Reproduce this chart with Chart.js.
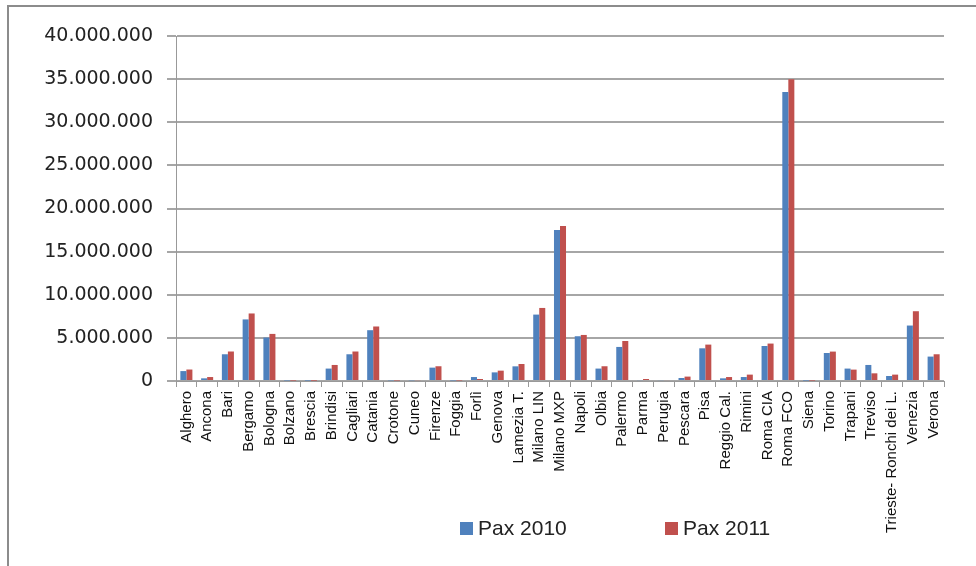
<!DOCTYPE html>
<html>
<head>
<meta charset="utf-8">
<script src="https://cdn.jsdelivr.net/npm/chart.js@4/dist/chart.umd.min.js"></script>
<style>
  body { margin: 0; background: #fff; }
  canvas { display: block; }
</style>
</head>
<body>
<canvas id="myChart" width="976" height="566"></canvas>
<script>
let airports = ['Alghero', 'Ancona', 'Bari', 'Bergamo', 'Bologna', 'Bolzano', 'Brescia', 'Brindisi',
    'Cagliari', 'Catania', 'Crotone', 'Cuneo', 'Firenze', 'Foggia', 'Forlì', 'Genova', 'Lamezia T.',
    'Milano LIN', 'Milano MXP', 'Napoli', 'Olbia', 'Palermo', 'Parma', 'Perugia', 'Pescara', 'Pisa',
    'Reggio Cal.', 'Rimini', 'Roma CIA', 'Roma FCO', 'Siena', 'Torino', 'Trapani', 'Treviso',
    'Trieste- Ronchi dei L.', 'Venezia', 'Verona'];

let pax2010 = [1150000, 310000, 3100000, 7140000, 5040000, 60000, 50000, 1440000,
    3100000, 5890000, 70000, 80000, 1550000, 60000, 460000, 1000000, 1700000,
    7700000, 17500000, 5190000, 1440000, 3950000, 100000, 100000, 350000, 3790000,
    310000, 460000, 4060000, 33500000, 50000, 3250000, 1440000, 1860000,
    580000, 6430000, 2830000];

let pax2011 = [1330000, 460000, 3420000, 7830000, 5460000, 50000, 40000, 1860000,
    3420000, 6320000, 60000, 100000, 1710000, 60000, 230000, 1200000, 1970000,
    8470000, 17970000, 5340000, 1710000, 4640000, 230000, 110000, 510000, 4220000,
    460000, 740000, 4340000, 35000000, 50000, 3410000, 1320000, 890000,
    740000, 8090000, 3100000];

let seriesNames = ['Pax 2010', 'Pax 2011'];
let colors = ['#4F81BD', '#C0504D'];
let yTicks = [0, 5000000, 10000000, 15000000, 20000000, 25000000, 30000000, 35000000, 40000000];

function dotted(n) {
    return String(n).replace(/\B(?=(\d{3})+(?!\d))/g, '.');
}

// frame of the original sheet + legend drawn by hand (wide gap between items)
let framePlugin = {
    id: 'frame',
    beforeDraw(chart) {
        let ctx = chart.ctx;
        ctx.save();
        ctx.strokeStyle = '#8c8c8c';
        ctx.lineWidth = 2;
        ctx.strokeRect(8, 6, 1200, 1200);
        ctx.restore();
    },
    afterDraw(chart) {
        let ctx = chart.ctx;
        let xs = [460, 665];
        ctx.save();
        ctx.font = '21px "Liberation Sans"';
        ctx.textBaseline = 'middle';
        chart.data.datasets.forEach((ds, i) => {
            ctx.fillStyle = ds.backgroundColor;
            ctx.fillRect(xs[i], 522, 13, 13);
            ctx.fillStyle = '#222';
            ctx.fillText(ds.label, xs[i] + 18, 529);
        });
        ctx.restore();
    }
};

let mychart = document.getElementById('myChart').getContext('2d');

let chart = new Chart(mychart, {
    type: 'bar',
    data: {
        labels: airports,
        datasets: [{
            label: seriesNames[0],
            data: pax2010,
            backgroundColor: colors[0]
        }, {
            label: seriesNames[1],
            data: pax2011,
            backgroundColor: colors[1]
        }]
    },
    options: {
        responsive: false,
        animation: false,
        categoryPercentage: 0.58,
        barPercentage: 1,
        layout: {
            padding: { top: 36, right: 32, left: 0, bottom: 0 }
        },
        plugins: {
            legend: { display: false },
            tooltip: { enabled: false }
        },
        scales: {
            x: {
                grid: { offset: true, drawOnChartArea: false, tickLength: 6, color: '#999' },
                border: { color: '#999' },
                ticks: {
                    autoSkip: false,
                    minRotation: 90,
                    maxRotation: 90,
                    padding: 4,
                    color: '#111',
                    font: { family: 'Liberation Sans', size: 15 }
                },
                afterFit: s => { s.height = 185; }
            },
            y: {
                min: 0,
                max: 40000000,
                afterBuildTicks: s => { s.ticks = yTicks.map(v => ({ value: v })); },
                ticks: {
                    padding: 14,
                    color: '#222',
                    font: { family: 'DejaVu Sans', size: 19 },
                    callback: v => dotted(v)
                },
                grid: { color: '#a6a6a6', lineWidth: 2, tickLength: 9 },
                border: { color: '#999', width: 1 },
                afterFit: s => { s.width = 176; }
            }
        }
    },
    plugins: [framePlugin]
});
</script>
</body>
</html>
